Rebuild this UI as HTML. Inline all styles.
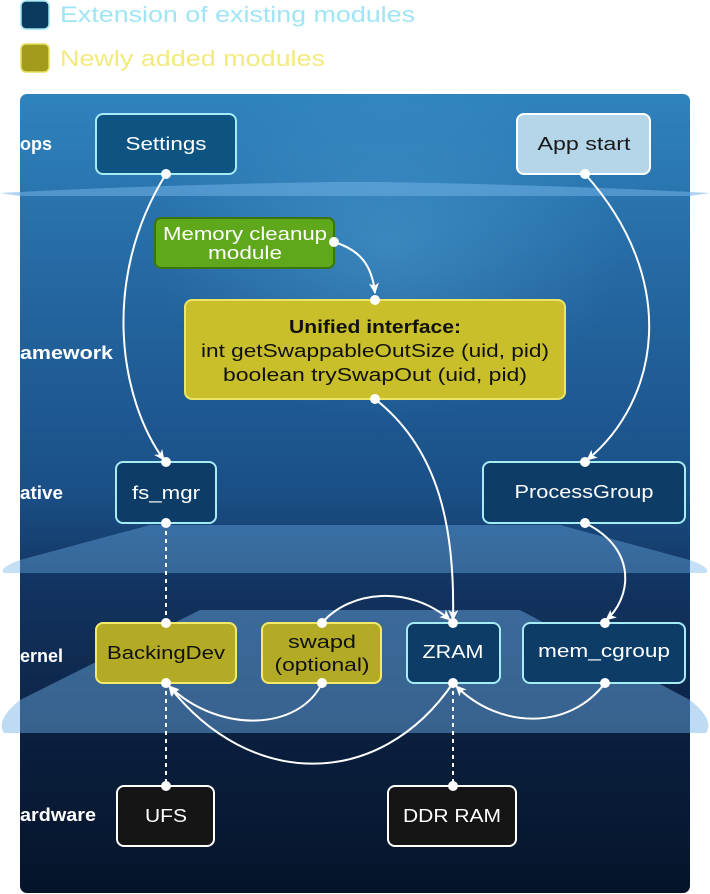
<!DOCTYPE html>
<html><head><meta charset="utf-8"><style>
html,body{margin:0;padding:0;background:#fff;width:710px;height:894px;overflow:hidden}
svg{display:block}
text{font-family:"Liberation Sans",sans-serif}
</style></head><body>
<svg width="710" height="894" viewBox="0 0 710 894" xmlns="http://www.w3.org/2000/svg">
<defs>
<linearGradient id="bg" x1="0" y1="0" x2="0" y2="1">
<stop offset="0" stop-color="#2f83bd"/>
<stop offset="0.25" stop-color="#2466a0"/>
<stop offset="0.5" stop-color="#1a4f86"/>
<stop offset="0.62" stop-color="#12335f"/>
<stop offset="0.8" stop-color="#0c2345"/>
<stop offset="1" stop-color="#06142a"/>
</linearGradient>
<radialGradient id="glow" cx="0.55" cy="0.3" r="0.35">
<stop offset="0" stop-color="#5fb6e8" stop-opacity="0.35"/>
<stop offset="1" stop-color="#5fb6e8" stop-opacity="0"/>
</radialGradient>
<clipPath id="panel"><rect x="20" y="94" width="670" height="799" rx="7"/></clipPath>
<marker id="ar" markerWidth="12" markerHeight="12" refX="10" refY="5" orient="auto" markerUnits="userSpaceOnUse">
<path d="M0,0 L11,5 L0,10 L3,5 Z" fill="#fff"/>
</marker>
</defs>
<rect x="21" y="1" width="28" height="28" rx="5" fill="#0b3a5e" stroke="#9ee4f2" stroke-width="1.5"/>
<text x="60" y="22" font-size="22" fill="#9fe5f5" textLength="355" lengthAdjust="spacingAndGlyphs">Extension of existing modules</text>
<rect x="21" y="44" width="28" height="28" rx="5" fill="#a39b1c" stroke="#e8df5a" stroke-width="1.5"/>
<text x="60" y="66" font-size="22" fill="#f2ea7c" textLength="265" lengthAdjust="spacingAndGlyphs">Newly added modules</text>

<rect x="20" y="94" width="670" height="799" rx="7" fill="url(#bg)"/>
<rect x="20" y="94" width="670" height="500" fill="url(#glow)" clip-path="url(#panel)"/>
<path d="M0,193 Q150,185 330,182 L380,182 Q560,185 710,193 L690,196 L20,196 Z" fill="#6fb0e6" opacity="0.55"/>
<path d="M150,525 L560,525 L690,560 Q712,568 706,573 L4,573 Q-2,568 20,560 Z" fill="#6fb0e6" opacity="0.4"/>
<path d="M200,610 L520,610 L690,700 Q715,720 706,733 L4,733 Q-5,720 20,700 Z" fill="#6fb0e6" opacity="0.45"/>
<rect x="20" y="733" width="670" height="160" fill="#06142a" opacity="0.2" clip-path="url(#panel)"/>

<g font-size="18" font-weight="bold" fill="#fff">
<text x="20" y="150" textLength="32" lengthAdjust="spacingAndGlyphs">ops</text>
<text x="20" y="359" textLength="93" lengthAdjust="spacingAndGlyphs">amework</text>
<text x="20" y="499" textLength="43" lengthAdjust="spacingAndGlyphs">ative</text>
<text x="20" y="662" textLength="43" lengthAdjust="spacingAndGlyphs">ernel</text>
<text x="20" y="821" textLength="76" lengthAdjust="spacingAndGlyphs">ardware</text>
</g>

<g fill="none" stroke="#fff" stroke-width="2">
<path d="M166,174 C100,280 120,400 164,460" marker-end="url(#ar)"/>
<path d="M585,174 C680,280 660,400 587,460" marker-end="url(#ar)"/>
<path d="M334,242 C360,250 372,265 375,293" marker-end="url(#ar)"/>
<path d="M375,399 C440,450 455,530 453,620" marker-end="url(#ar)"/>
<path d="M585,523 C640,550 630,600 606,620" marker-end="url(#ar)"/>
<path d="M322,623 C350,590 410,585 450,620" marker-end="url(#ar)"/>
<path d="M322,683 C300,730 220,735 169,686" marker-end="url(#ar)"/>
<path d="M453,683 C380,790 250,790 169,686" marker-end="url(#ar)"/>
<path d="M605,683 C570,730 500,730 456,686" marker-end="url(#ar)"/>
<g stroke-dasharray="4,4">
<path d="M166,523 L166,623"/>
<path d="M166,683 L166,786"/>
<path d="M453,683 L453,786"/>
</g>
</g>

<g font-size="18" text-anchor="middle">
<rect x="96" y="114" width="140" height="60" rx="7" fill="#0e5482" stroke="#a6ecf5" stroke-width="2"/>
<text x="166" y="150" fill="#fff" textLength="81" lengthAdjust="spacingAndGlyphs">Settings</text>
<rect x="517" y="114" width="133" height="60" rx="7" fill="#b5d5e8" stroke="#ffffff" stroke-width="2"/>
<text x="584" y="150" fill="#1a1a1a" textLength="93" lengthAdjust="spacingAndGlyphs">App start</text>
<rect x="155" y="218" width="179" height="50" rx="6" fill="#5fa81c" stroke="#3c7510" stroke-width="2"/>
<text x="245" y="240" fill="#fff" textLength="164" lengthAdjust="spacingAndGlyphs">Memory cleanup</text>
<text x="245" y="259" fill="#fff" textLength="74" lengthAdjust="spacingAndGlyphs">module</text>
<rect x="185" y="300" width="380" height="99" rx="7" fill="#c8bf2a" stroke="#ece464" stroke-width="2"/>
<text x="375" y="333" fill="#111" font-weight="bold" textLength="172" lengthAdjust="spacingAndGlyphs">Unified interface:</text>
<text x="375" y="357" fill="#111" textLength="348" lengthAdjust="spacingAndGlyphs">int getSwappableOutSize (uid, pid)</text>
<text x="375" y="381" fill="#111" textLength="304" lengthAdjust="spacingAndGlyphs">boolean trySwapOut (uid, pid)</text>
<rect x="116" y="462" width="100" height="61" rx="7" fill="#0d3c66" stroke="#a6ecf5" stroke-width="2"/>
<text x="166" y="499" fill="#fff" textLength="68" lengthAdjust="spacingAndGlyphs">fs_mgr</text>
<rect x="483" y="462" width="202" height="61" rx="7" fill="#0d3c66" stroke="#a6ecf5" stroke-width="2"/>
<text x="584" y="498" fill="#fff" textLength="139" lengthAdjust="spacingAndGlyphs">ProcessGroup</text>
<rect x="96" y="623" width="140" height="60" rx="7" fill="#b3ab26" stroke="#f4ea6a" stroke-width="2"/>
<text x="166" y="659" fill="#111" textLength="118" lengthAdjust="spacingAndGlyphs">BackingDev</text>
<rect x="262" y="623" width="119" height="60" rx="7" fill="#b3ab26" stroke="#f4ea6a" stroke-width="2"/>
<text x="322" y="648" fill="#111" textLength="68" lengthAdjust="spacingAndGlyphs">swapd</text>
<text x="322" y="671" fill="#111" textLength="95" lengthAdjust="spacingAndGlyphs">(optional)</text>
<rect x="407" y="623" width="93" height="60" rx="7" fill="#0d3c66" stroke="#a6ecf5" stroke-width="2"/>
<text x="453" y="658" fill="#fff" textLength="61" lengthAdjust="spacingAndGlyphs">ZRAM</text>
<rect x="523" y="623" width="162" height="60" rx="7" fill="#0d3c66" stroke="#a6ecf5" stroke-width="2"/>
<text x="604" y="657" fill="#fff" textLength="132" lengthAdjust="spacingAndGlyphs">mem_cgroup</text>
<rect x="117" y="786" width="97" height="60" rx="7" fill="#151515" stroke="#ffffff" stroke-width="2"/>
<text x="166" y="822" fill="#fff" textLength="42" lengthAdjust="spacingAndGlyphs">UFS</text>
<rect x="388" y="786" width="128" height="60" rx="7" fill="#151515" stroke="#ffffff" stroke-width="2"/>
<text x="452" y="822" fill="#fff" textLength="98" lengthAdjust="spacingAndGlyphs">DDR RAM</text>
</g>

<g fill="#fff">
<circle cx="166" cy="174" r="5"/><circle cx="585" cy="174" r="5"/>
<circle cx="334" cy="242" r="5"/><circle cx="375" cy="300" r="5"/>
<circle cx="375" cy="399" r="5"/>
<circle cx="166" cy="462" r="5"/><circle cx="166" cy="523" r="5"/>
<circle cx="585" cy="462" r="5"/><circle cx="585" cy="523" r="5"/>
<circle cx="166" cy="623" r="5"/><circle cx="166" cy="683" r="5"/>
<circle cx="322" cy="623" r="5"/><circle cx="322" cy="683" r="5"/>
<circle cx="453" cy="623" r="5"/><circle cx="453" cy="683" r="5"/>
<circle cx="605" cy="623" r="5"/><circle cx="605" cy="683" r="5"/>
<circle cx="166" cy="786" r="5"/><circle cx="453" cy="786" r="5"/>
</g>
</svg>
</body></html>
